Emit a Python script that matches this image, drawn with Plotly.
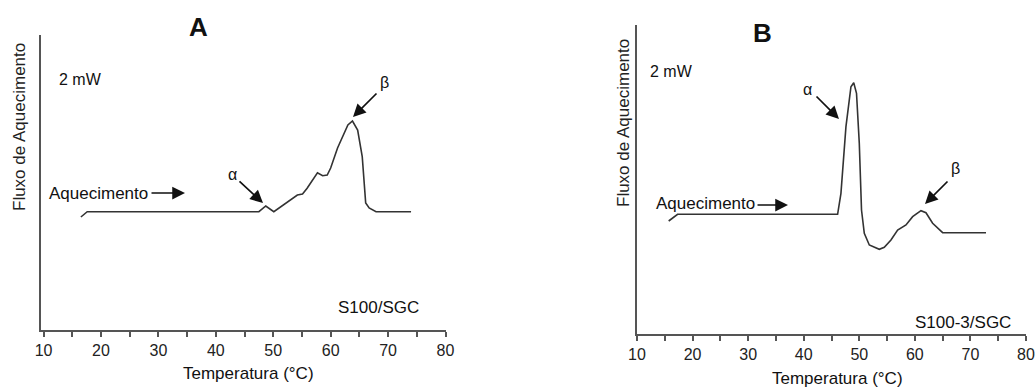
import plotly.graph_objects as go

W, H = 1036, 387

# Panel A : S100/SGC  (temperature in °C, heat flow in arbitrary units)
tempA = [16.5, 17.6, 47.5, 48.7, 50.1, 51.8, 54.2, 55.1, 55.9, 57.7, 58.6, 59.4,
         60.0, 61.2, 62.3, 63.0, 63.8, 64.7, 65.5, 66.1, 66.7, 67.9, 74.0]
fluxA = [113, 118.3, 118.3, 124, 118.3, 125, 135, 136, 141.7, 157.3, 154.3, 155,
         162, 182, 197, 205, 209, 200, 173.3, 127, 122, 118.3, 118.3]

# Panel B : S100-3/SGC
tempB = [15.7, 17.3, 46.1, 46.7, 47.6, 48.5, 49.0, 49.5, 50.0, 50.4, 50.9, 51.8,
         53.6, 54.5, 55.7, 56.9, 58.4, 59.6, 61.1, 62.0, 63.2, 65.0, 72.8]
fluxB = [113, 119.7, 119.7, 140.7, 207.3, 247.3, 251.3, 240.7, 190.7, 124, 100.7, 89,
         84.7, 86.7, 94, 104, 109, 117.3, 123.3, 121.3, 110.7, 101.3, 101.3]

tick_vals = [10, 15, 20, 25, 30, 35, 40, 45, 50, 55, 60, 65, 70, 75, 80]
tick_text = ["10", "", "20", "", "30", "", "40", "", "50", "", "60", "", "70", "", "80"]

FONT = "Arial, Liberation Sans, sans-serif"
LINE = "#333333"
AXC = "#555555"

def px(x):
    return x / W

def py(y):
    return 1 - y / H

fig = go.Figure()
fig.add_trace(go.Scatter(x=tempA, y=fluxA, mode="lines", xaxis="x", yaxis="y",
                         line=dict(color=LINE, width=1.6), showlegend=False))
fig.add_trace(go.Scatter(x=tempB, y=fluxB, mode="lines", xaxis="x2", yaxis="y2",
                         line=dict(color=LINE, width=1.6), showlegend=False))

xcommon = dict(tickvals=tick_vals, ticktext=tick_text, ticks="outside", ticklen=5,
               tickwidth=2, tickcolor=AXC, showline=True, linecolor=AXC, linewidth=2,
               showgrid=False, zeroline=False, automargin=False,
               tickfont=dict(family=FONT, size=16, color="#222"))
ycommon = dict(showline=True, linecolor=AXC, linewidth=2, showgrid=False, zeroline=False,
               showticklabels=False, ticks="", automargin=False)

fig.update_layout(
    width=W, height=H, autosize=False,
    margin=dict(l=0, r=0, t=0, b=0, pad=0),
    paper_bgcolor="white", plot_bgcolor="white",
    xaxis=dict(domain=[px(40.7), px(445.5)], range=[9.5, 80], anchor="y", **xcommon),
    yaxis=dict(domain=[py(330), py(35)], range=[0, 295], anchor="x", **ycommon),
    xaxis2=dict(domain=[px(637), px(1026)], range=[10, 80], anchor="y2", **xcommon),
    yaxis2=dict(domain=[py(334), py(25)], range=[0, 309], anchor="x2", **ycommon),
)

ann = []

def text(x, y, s, size=17, bold=False, xanchor="center"):
    ann.append(dict(xref="paper", yref="paper", x=px(x), y=py(y), text=("<b>%s</b>" % s) if bold else s,
                    showarrow=False, xanchor=xanchor, yanchor="middle",
                    font=dict(family=FONT, size=size, color="#111")))

def arrow(tx, ty, hx, hy):
    ann.append(dict(xref="paper", yref="paper", x=px(hx), y=py(hy), ax=tx - hx, ay=ty - hy,
                    axref="pixel", ayref="pixel", text="", showarrow=True,
                    arrowhead=2, arrowsize=1.5, arrowwidth=1.7, arrowcolor="#111"))

def ytitle(x, y, s):
    ann.append(dict(xref="paper", yref="paper", x=px(x), y=py(y), text=s,
                    showarrow=False, textangle=-90, xanchor="center", yanchor="middle",
                    font=dict(family=FONT, size=17, color="#222")))

# Panel A labels
text(198, 27, "A", size=26, bold=True)
text(57, 79, "2 mW", size=16, xanchor="left")
text(47, 193, "Aquecimento", size=17, xanchor="left")
arrow(150, 193, 185, 193)
text(232, 174, "α", size=16)
arrow(238, 180, 263, 203)
text(384, 82, "β", size=16)
arrow(378, 92, 353, 117)
text(378, 307, "S100/SGC", size=17)
text(248, 373, "Temperatura (°C)", size=17)
ytitle(19, 127, "Fluxo de Aquecimento")

# Panel B labels
text(762, 33, "B", size=26, bold=True)
text(648, 71, "2 mW", size=16, xanchor="left")
text(654, 203, "Aquecimento", size=17, xanchor="left")
arrow(756, 205, 788, 205)
text(807, 89, "α", size=16)
arrow(815, 95, 839, 119)
text(955, 168, "β", size=16)
arrow(949, 180, 925, 204)
text(963, 322, "S100-3/SGC", size=17)
text(837, 378, "Temperatura (°C)", size=17)
ytitle(623, 123, "Fluxo de Aquecimento")

fig.update_layout(annotations=ann)
fig.write_html("out.html", config={"displayModeBar": False},
               post_script="document.body.style.margin='0';")
